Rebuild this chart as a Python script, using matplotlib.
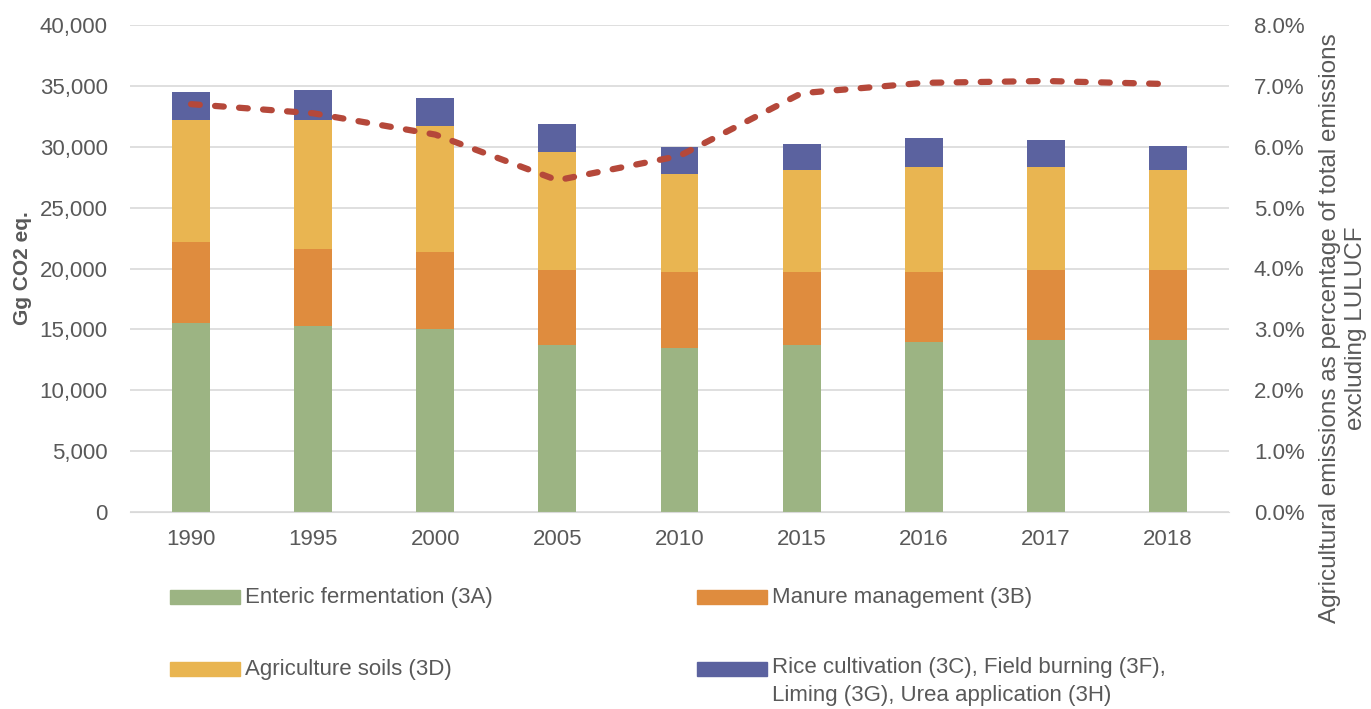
import matplotlib
matplotlib.use("Agg")
import matplotlib.pyplot as plt
from matplotlib.patches import Rectangle
from matplotlib.ticker import FuncFormatter
import numpy as np

years = ["1990", "1995", "2000", "2005", "2010", "2015", "2016", "2017", "2018"]
enteric = [15500, 15300, 15000, 13700, 13500, 13700, 14000, 14100, 14100]
manure = [6700, 6300, 6350, 6200, 6200, 6000, 5700, 5800, 5800]
soils = [10000, 10600, 10350, 9700, 8100, 8400, 8650, 8450, 8200]
other = [2300, 2460, 2300, 2300, 2200, 2100, 2350, 2200, 1960]
share_pct = [6.70, 6.55, 6.20, 5.45, 5.85, 6.88, 7.05, 7.08, 7.03]

labels = ["Enteric fermentation (3A)", "Manure management (3B)",
          "Agriculture soils (3D)",
          "Rice cultivation (3C), Field burning (3F),\nLiming (3G), Urea application (3H)"]
colors = ["#9cb483", "#df8c3e", "#e9b551", "#5b629f"]
line_color = "#b5483a"
right_label = "Agricultural emissions as percentage of total emissions\nexcluding LULUCF"

plt.rcParams['font.family'] = ['Liberation Sans', 'DejaVu Sans']
txt = "#595959"

W, H = 1371, 709
fig = plt.figure(figsize=(W / 100, H / 100), dpi=100)
ax = fig.add_axes([130 / W, 1 - 512 / H, 1099 / W, 487 / H])
x = np.arange(len(years))
w = 0.31
bottom = np.zeros(len(years))
for vals, c in zip([enteric, manure, soils, other], colors):
    ax.bar(x, vals, w, bottom=bottom, color=c, zorder=2)
    bottom += np.array(vals)

ax.set_xlim(-0.5, len(years) - 0.5)
ax.set_ylim(0, 40000)
ax.set_yticks(np.arange(0, 40001, 5000))
ax.yaxis.set_major_formatter(FuncFormatter(lambda v, p: f"{int(v):,}"))
ax.set_xticks(x)
ax.set_xticklabels(years)
ax.grid(axis='y', color='#d9d9d9', lw=1.2, zorder=0)
for s in ['top', 'right', 'left']:
    ax.spines[s].set_visible(False)
ax.spines['bottom'].set_color('#d9d9d9')
ax.tick_params(axis='both', length=0, labelsize=16, colors=txt, pad=16)
ax.tick_params(axis='x', pad=12)
ax.set_ylabel("Gg CO2 eq.", fontsize=15, fontweight='bold', color=txt)
ax.yaxis.set_label_coords(-0.089, 0.5)

ax2 = ax.twinx()
ax2.plot(x, share_pct, color=line_color, lw=4.5, ls=(0, (1.4, 2.45)),
         dash_capstyle='round', zorder=5)
ax2.set_ylim(0, 8)
ax2.set_yticks(np.arange(0, 8.01, 1))
ax2.yaxis.set_major_formatter(FuncFormatter(lambda v, p: f"{v:.1f}%"))
for s in ['top', 'right', 'left', 'bottom']:
    ax2.spines[s].set_visible(False)
ax2.tick_params(axis='y', length=0, labelsize=16, colors=txt, pad=18)
fig.text(1343 / W, 1 - 328 / H, right_label, rotation=90, ha='center', va='center',
         multialignment='center', fontsize=17.5, color=txt, linespacing=1.25)

# legend (manual layout)
pos = [(170, 597), (697, 597), (170, 669), (697, 669)]
for (px, py), c, lab in zip(pos, colors, labels):
    fig.patches.append(Rectangle((px / W, 1 - (py + 7) / H), 70 / W, 14 / H,
                                 transform=fig.transFigure, color=c))
    if '\n' in lab:
        fig.text((px + 75) / W, 1 - (py - 12) / H, lab, fontsize=16, color=txt,
                 va='top', ha='left', linespacing=1.45)
    else:
        fig.text((px + 75) / W, 1 - (py + 1) / H, lab, fontsize=16, color=txt,
                 va='center', ha='left')

fig.savefig("out.png", dpi=100)
